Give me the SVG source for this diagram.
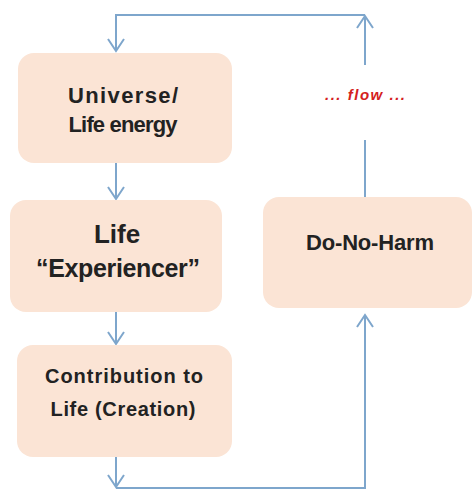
<svg xmlns="http://www.w3.org/2000/svg" width="473" height="491" viewBox="0 0 473 491">
<defs>
<style>
.box{fill:#fbe4d5;stroke:none}
.t{font-family:"Liberation Sans",Arial,sans-serif;font-weight:bold;fill:#222;text-anchor:middle}
.c{fill:none;stroke:#7ea6cc;stroke-width:2}
.flow{font-family:"Liberation Sans",Arial,sans-serif;font-style:italic;font-weight:bold;fill:#d42020;text-anchor:middle;font-size:15px}
</style>
<marker id="ah" markerUnits="userSpaceOnUse" markerWidth="20" markerHeight="20" refX="13" refY="9" orient="auto" viewBox="0 0 20 20">
<path d="M1,1 L13,9 L1,17" fill="none" stroke="#7ea6cc" stroke-width="2"/>
</marker>
</defs>
<rect width="473" height="491" fill="#fff"/>
<g id="connectors">
<path class="c" d="M365,65 L365,16" marker-end="url(#ah)"/>
<path class="c" d="M365,15 L116,15 L116,51" marker-end="url(#ah)"/>
<path class="c" d="M365,197 L365,140"/>
<path class="c" d="M116,163 L116,199" marker-end="url(#ah)"/>
<path class="c" d="M116,312 L116,344" marker-end="url(#ah)"/>
<path class="c" d="M116,457 L116,487" marker-end="url(#ah)"/>
<path class="c" d="M116,488 L365,488 L365,315" marker-end="url(#ah)"/>
</g>
<g id="universe">
<rect class="box" x="18" y="53" width="214" height="110" rx="16"/>
<text class="t" x="123" y="103" font-size="22" textLength="110">Universe/</text>
<text class="t" x="123" y="132" font-size="22" textLength="109">Life energy</text>
</g>
<g id="experiencer">
<rect class="box" x="10" y="200" width="212" height="112" rx="16"/>
<text class="t" x="117" y="243" font-size="26">Life</text>
<text class="t" x="118" y="277" font-size="25" textLength="164">“Experiencer”</text>
</g>
<g id="contribution">
<rect class="box" x="17" y="345" width="215" height="112" rx="16"/>
<text class="t" x="124" y="383" font-size="20" textLength="158">Contribution to</text>
<text class="t" x="123" y="416" font-size="20" textLength="145">Life (Creation)</text>
</g>
<g id="donoharm">
<rect class="box" x="263" y="197" width="209" height="111" rx="16"/>
<text class="t" x="370" y="250" font-size="22" textLength="128">Do-No-Harm</text>
</g>
<g id="flow-label">
<text class="flow" x="365" y="100" textLength="80">... flow ...</text>
</g>
</svg>
